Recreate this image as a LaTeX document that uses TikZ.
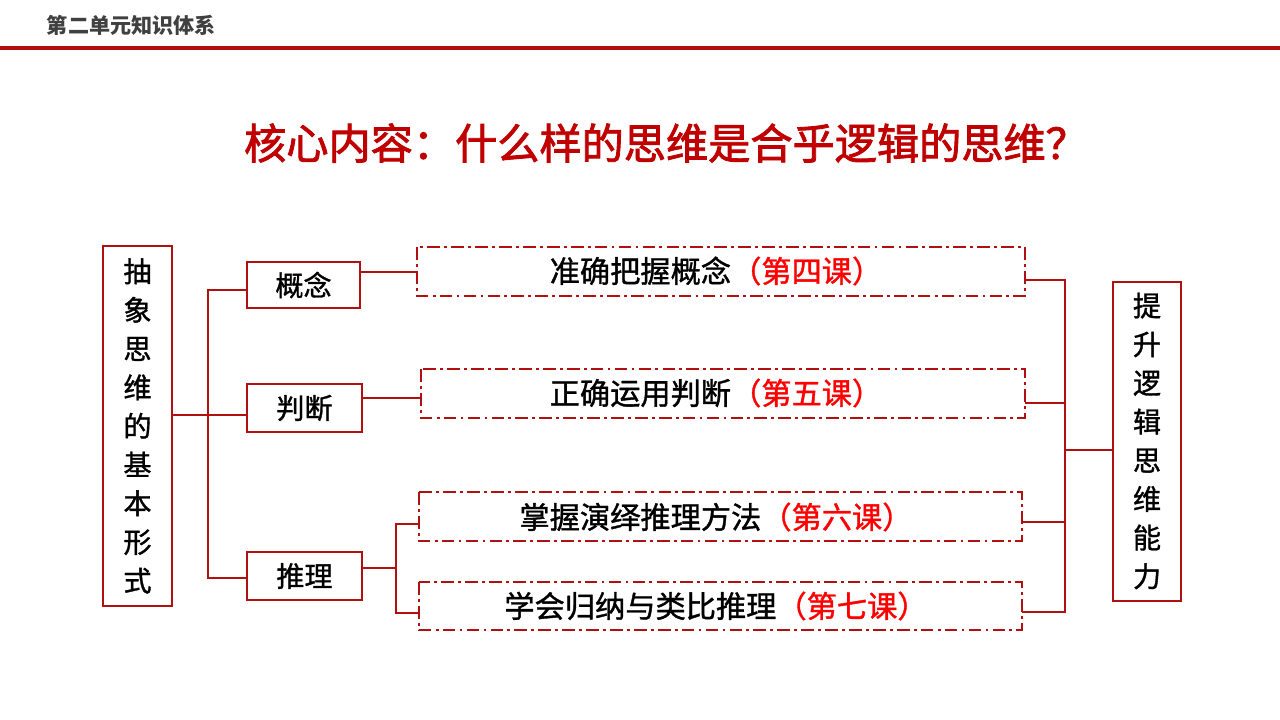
\documentclass[tikz,border=0pt]{standalone}
\usepackage{fontspec}
\newfontfamily\cjk{Noto Sans CJK SC}
\newfontfamily\cjkm[FakeBold=1.2]{Noto Sans CJK SC}
\newfontfamily\cjkb[FakeBold=2]{Noto Sans CJK SC}
\begin{document}
\begin{tikzpicture}[x=0.025cm,y=-0.025cm,
  ln/.style={draw=dred,line width=1.6pt},
  box/.style={ln,draw=dred,line width=2pt},
  dbox/.style={draw=dred,line width=1.5pt,dash pattern=on 9pt off 3pt on 2pt off 3pt},
  txt/.style={font=\cjkm\fontsize{20}{22}\selectfont,text=black},
  dtxt/.style={font=\cjkm\fontsize{21.5}{24}\selectfont,text=black},
  vt/.style={font=\cjkm\fontsize{20}{27.5}\selectfont,text=black,align=center}]
\definecolor{dred}{HTML}{B01010}
\definecolor{tred}{HTML}{C00000}
\definecolor{hred}{HTML}{FF0000}
\useasboundingbox (0,0) rectangle (1280,720);
\node[font=\cjk\bfseries\fontsize{15}{16}\selectfont,text=black!75,anchor=west] (hdr) at (42,25) {第二单元知识体系};
\draw[draw=dred,line width=3pt] (0,48) coordinate (h1) -- (1280,48) coordinate (h2);
\node[font=\cjkb\fontsize{30}{32}\selectfont,text=tred] (title) at (666,143) {核心内容：什么样的思维是合乎逻辑的思维？};
% left box
\draw[box] (103,246) rectangle (172,606);
\node[vt] (L) at (137.5,426) {抽\\象\\思\\维\\的\\基\\本\\形\\式};
\coordinate (Lr) at (172,415);
\draw[box] (247,262) rectangle (360,308); \node[txt] (gn) at (303.5,285) {概念};
\draw[box] (247,384) rectangle (362,432); \node[txt] (pd) at (304.5,408) {判断};
\draw[box] (247,552) rectangle (362,600); \node[txt] (tl) at (304.5,576) {推理};
\draw[ln] (Lr) -- (208,415);
\draw[ln] (247,290) -- (208,290) -- (208,578) -- (247,578);
\draw[ln] (208,415) -- (247,415);
% dashed boxes
\draw[dbox] (417,247) rectangle (1025,296);
\node[dtxt] (d1) at (716,271) {准确把握概念\textcolor{hred}{（第四课）}};
\draw[dbox] (421,369) rectangle (1025,418);
\node[dtxt] (d2) at (716,393) {正确运用判断\textcolor{hred}{（第五课）}};
\draw[dbox] (419,492) rectangle (1022,541);
\node[dtxt] (d3) at (716,517) {掌握演绎推理方法\textcolor{hred}{（第六课）}};
\draw[dbox] (419,582) rectangle (1022,630);
\node[dtxt] (d4) at (716,606) {学会归纳与类比推理\textcolor{hred}{（第七课）}};
\draw[ln] (360,272) -- (417,272);
\draw[ln] (362,398) -- (421,398);
\draw[ln] (362,568) -- (396,568);
\draw[ln] (419,524) -- (396,524) -- (396,613) -- (419,613);
% right
\draw[ln] (1025,280) -- (1065,280) -- (1065,612) -- (1022,612);
\draw[ln] (1025,403) -- (1065,403);
\draw[ln] (1022,522) -- (1065,522);
\draw[ln] (1065,450) -- (1113,450);
\draw[box] (1113,282) rectangle (1181,601);
\node[vt] (R) at (1147,441) {提\\升\\逻\\辑\\思\\维\\能\\力};
\end{tikzpicture}
\end{document}
